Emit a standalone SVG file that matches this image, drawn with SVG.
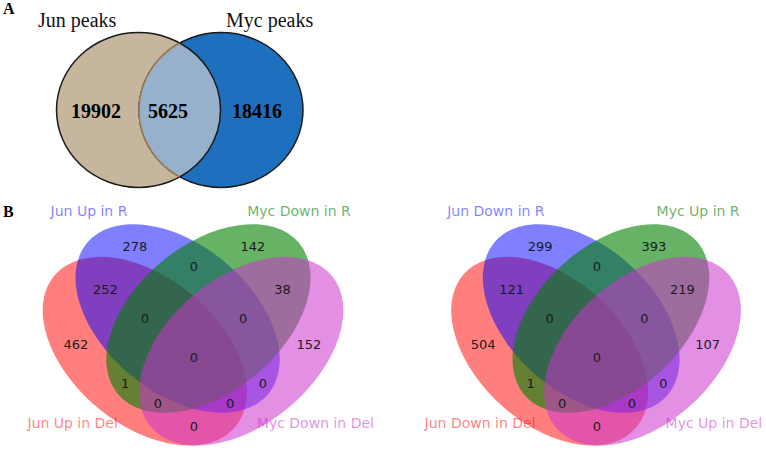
<svg xmlns="http://www.w3.org/2000/svg" width="766" height="451" viewBox="0 0 766 451">
<style>
.panel{font-family:"Liberation Serif","Times New Roman",serif;font-weight:bold;font-size:16px;fill:#000}
.title{font-family:"Liberation Serif","Times New Roman",serif;font-size:20px;fill:#111}
.big{font-family:"Liberation Serif","Times New Roman",serif;font-weight:bold;font-size:20px;fill:#000;text-anchor:middle}
.n{font-family:"DejaVu Sans",sans-serif;font-size:13px;fill:#1a1a1a;text-anchor:middle;dominant-baseline:central}
.lab{font-family:"DejaVu Sans",sans-serif;font-size:14px;text-anchor:middle;dominant-baseline:central}
.r{fill:#ff0000;fill-opacity:0.5}
.b{fill:#0000ff;fill-opacity:0.5}
.g{fill:#008000;fill-opacity:0.6}
.m{fill:#cc33cc;fill-opacity:0.55}
</style>
<rect width="766" height="451" fill="#fff"/>

<!-- Panel A -->
<text class="panel" x="3" y="14">A</text>
<g id="jun-peaks">
<ellipse cx="138.5" cy="110" rx="82" ry="77.5" fill="#c5b69d" stroke="#1a1a1a" stroke-width="1.5"/>
<text class="title" x="38" y="27">Jun peaks</text>
<text class="big" x="96" y="118">19902</text>
</g>
<g id="myc-peaks">
<ellipse cx="221" cy="110" rx="82" ry="77.5" fill="#1e70be" stroke="#1a1a1a" stroke-width="1.5"/>
<text class="title" x="226" y="27">Myc peaks</text>
<text class="big" x="257" y="118">18416</text>
</g>
<g id="overlap">
<path d="M179.75,43 A82,77.5 0 0,1 179.75,177 A82,77.5 0 0,1 179.75,43 Z" fill="#97b0cc"/>
<path d="M179.75,177 A82,77.5 0 0,1 179.75,43" fill="none" stroke="#9b7d55" stroke-width="1.5"/>
<path d="M179.75,43 A82,77.5 0 0,1 179.75,177" fill="none" stroke="#1a1a1a" stroke-width="1.5"/>
<text class="big" x="168" y="118">5625</text>
</g>

<!-- Panel B -->
<text class="panel" x="3" y="217">B</text>

<!-- Left 4-set Venn -->
<g id="venn-left-shapes" transform="translate(30,482) scale(328,-327)">
<ellipse class="r" cx="0.35" cy="0.4" rx="0.36" ry="0.225" transform="rotate(140 0.35 0.4)"/>
<ellipse class="b" cx="0.45" cy="0.5" rx="0.36" ry="0.225" transform="rotate(140 0.45 0.5)"/>
<ellipse class="g" cx="0.544" cy="0.5" rx="0.36" ry="0.225" transform="rotate(40 0.544 0.5)"/>
<ellipse class="m" cx="0.644" cy="0.4" rx="0.36" ry="0.225" transform="rotate(40 0.644 0.4)"/>
</g>
<g id="venn-left-labels">
<text class="lab" x="89" y="211" fill="#0000ff" fill-opacity="0.5">Jun Up in R</text>
<text class="lab" x="299" y="211" fill="#008000" fill-opacity="0.6">Myc Down in R</text>
<text class="lab" x="72.6" y="423" fill="#ff0000" fill-opacity="0.5">Jun Up in Del</text>
<text class="lab" x="315.4" y="423" fill="#cc33cc" fill-opacity="0.55">Myc Down in Del</text>
<text class="n" x="75.9" y="344.7">462</text>
<text class="n" x="135" y="246.6">278</text>
<text class="n" x="253" y="246.6">142</text>
<text class="n" x="308.8" y="344.7">152</text>
<text class="n" x="105.4" y="289.1">252</text>
<text class="n" x="282.6" y="289.1">38</text>
<text class="n" x="194" y="266.2">0</text>
<text class="n" x="194" y="426.4">0</text>
<text class="n" x="125.1" y="383.9">1</text>
<text class="n" x="262.9" y="383.9">0</text>
<text class="n" x="144.8" y="318.5">0</text>
<text class="n" x="243.2" y="318.5">0</text>
<text class="n" x="157.9" y="403.5">0</text>
<text class="n" x="230.1" y="403.5">0</text>
<text class="n" x="194" y="357.7">0</text>
</g>

<!-- Right 4-set Venn -->
<g id="venn-right-shapes" transform="translate(439,482) scale(316,-327)">
<ellipse class="r" cx="0.35" cy="0.4" rx="0.36" ry="0.225" transform="rotate(140 0.35 0.4)"/>
<ellipse class="b" cx="0.45" cy="0.5" rx="0.36" ry="0.225" transform="rotate(140 0.45 0.5)"/>
<ellipse class="g" cx="0.544" cy="0.5" rx="0.36" ry="0.225" transform="rotate(40 0.544 0.5)"/>
<ellipse class="m" cx="0.644" cy="0.4" rx="0.36" ry="0.225" transform="rotate(40 0.644 0.4)"/>
</g>
<g id="venn-right-labels">
<text class="lab" x="495.9" y="211" fill="#0000ff" fill-opacity="0.5">Jun Down in R</text>
<text class="lab" x="698.1" y="211" fill="#008000" fill-opacity="0.6">Myc Up in R</text>
<text class="lab" x="480.1" y="423" fill="#ff0000" fill-opacity="0.5">Jun Down in Del</text>
<text class="lab" x="713.9" y="423" fill="#cc33cc" fill-opacity="0.55">Myc Up in Del</text>
<text class="n" x="483.2" y="344.7">504</text>
<text class="n" x="540.1" y="246.6">299</text>
<text class="n" x="653.9" y="246.6">393</text>
<text class="n" x="707.6" y="344.7">107</text>
<text class="n" x="511.7" y="289.1">121</text>
<text class="n" x="682.3" y="289.1">219</text>
<text class="n" x="597" y="266.2">0</text>
<text class="n" x="597" y="426.4">0</text>
<text class="n" x="530.6" y="383.9">1</text>
<text class="n" x="663.4" y="383.9">0</text>
<text class="n" x="549.6" y="318.5">0</text>
<text class="n" x="644.4" y="318.5">0</text>
<text class="n" x="562.2" y="403.5">0</text>
<text class="n" x="631.8" y="403.5">0</text>
<text class="n" x="597" y="357.7">0</text>
</g>
</svg>
